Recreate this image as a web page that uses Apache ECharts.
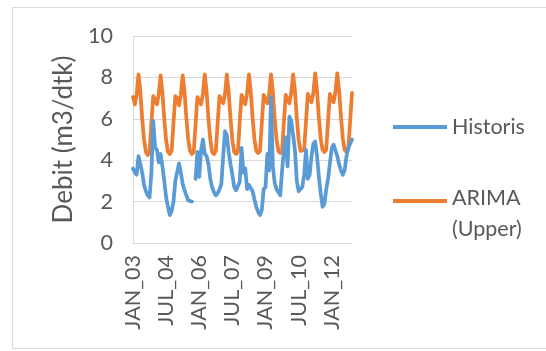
<!DOCTYPE html>
<html>
<head>
<meta charset="utf-8">
<script src="https://cdn.jsdelivr.net/npm/echarts@6/dist/echarts.min.js"></script>
<style>
  html, body { margin: 0; padding: 0; background: #ffffff; }
  #chart { width: 546px; height: 351px; }
</style>
</head>
<body>
<div id="chart"></div>
<script>
// Monthly categories: JAN_03 ... DEC_12
const monthCodes = ['JAN','FEB','MAR','APR','MAY','JUN','JUL','AUG','SEP','OCT','NOV','DEC'];
const yearCodes = ['03','04','05','06','07','08','09','10','11','12'];
const categories = [];
yearCodes.forEach(y => monthCodes.forEach(m => categories.push(m + '_' + y)));

// Observed discharge (m3/dtk), one row per year; null = missing month
const historis2003 = [3.6, 3.4, 3.3, 4.2, 3.8, 3.4, 2.8, 2.5, 2.3, 2.2, 3.4, 5.9];
const historis2004 = [4.6, 4.5, 3.9, 4.3, 3.7, 3.0, 2.2, 1.75, 1.35, 1.55, 2.0, 3.0];
const historis2005 = [3.0, 3.85, 3.4, 2.85, 2.55, 2.3, 2.05, 2.0, 2.0, null, 3.1, 4.4];
const historis2006 = [3.2, 4.5, 5.0, 4.3, 4.2, 3.8, 3.1, 2.7, 2.45, 2.3, 2.4, 2.6];
const historis2007 = [2.85, 4.2, 5.4, 5.2, 4.4, 3.8, 3.3, 2.7, 2.55, 2.75, 2.95, 4.6];
const historis2008 = [3.4, 3.6, 2.6, 2.8, 2.8, 2.5, 2.1, 1.75, 1.5, 1.35, 1.6, 2.6];
const historis2009 = [2.7, 4.3, 3.5, 7.05, 3.7, 2.9, 2.6, 2.45, 2.3, 3.5, 4.5, 5.1];
const historis2010 = [3.7, 6.1, 5.9, 5.2, 4.5, 3.0, 2.5, 2.5, 2.7, 3.3, 4.5, 3.1];
const historis2011 = [3.3, 4.2, 4.8, 4.9, 4.2, 3.2, 2.4, 1.75, 1.9, 2.6, 3.1, 3.1];
const historis2012 = [4.6, 4.75, 4.7, 4.2, 3.8, 3.5, 3.3, 3.5, 4.2, 4.6, 4.8, 5.0];

// ARIMA upper bound (m3/dtk), one row per year
const upper2003 = [7.05, 6.7, 7.2, 8.15, 7.3, 6.0, 5.0, 4.4, 4.25, 4.4, 5.8, 7.1];
const upper2004 = [7.05, 6.7, 7.2, 8.1, 7.25, 6.0, 4.95, 4.4, 4.3, 4.45, 5.8, 7.1];
const upper2005 = [7.0, 6.65, 7.15, 8.1, 7.3, 6.05, 5.0, 4.45, 4.3, 4.4, 5.75, 7.05];
const upper2006 = [7.1, 6.7, 7.2, 8.15, 7.3, 6.0, 5.0, 4.4, 4.3, 4.45, 5.8, 7.1];
const upper2007 = [7.1, 6.75, 7.2, 8.15, 7.25, 6.0, 4.95, 4.4, 4.3, 4.4, 5.85, 7.15];
const upper2008 = [7.1, 6.7, 7.25, 8.15, 7.3, 6.05, 5.0, 4.45, 4.35, 4.45, 5.8, 7.15];
const upper2009 = [7.15, 6.75, 7.2, 8.15, 7.3, 6.0, 5.0, 4.45, 4.35, 4.45, 5.85, 7.15];
const upper2010 = [7.15, 6.75, 7.25, 8.15, 7.35, 6.05, 5.0, 4.45, 4.4, 4.5, 5.85, 7.2];
const upper2011 = [7.2, 6.8, 7.25, 8.2, 7.35, 6.05, 5.05, 4.5, 4.4, 4.5, 5.9, 7.2];
const upper2012 = [7.2, 6.8, 7.3, 8.2, 7.35, 6.1, 5.05, 4.5, 4.4, 4.55, 5.9, 7.25];

const historis = [].concat(historis2003, historis2004, historis2005, historis2006, historis2007,
  historis2008, historis2009, historis2010, historis2011, historis2012);
const arimaUpper = [].concat(upper2003, upper2004, upper2005, upper2006, upper2007,
  upper2008, upper2009, upper2010, upper2011, upper2012);

const yTicks = { min: 0, max: 10, interval: 2 };

const FONT = 'Lato, "Open Sans", sans-serif';
const TEXT = '#595959';

// Legend swatch: a 54x4 bar on top of a 30px-tall box, so that it lines up
// with the first line of a two-line legend label.
const topBarIcon = 'path://M0,0L54,0L54,4L0,4Z M0,30L0.05,30L0.05,30.05L0,30.05Z';

const chart = echarts.init(document.getElementById('chart'), null, { renderer: 'canvas' });
chart.setOption({
  animation: false,
  backgroundColor: '#ffffff',
  graphic: [{
    type: 'rect',
    shape: { x: 12.5, y: 7.5, width: 545, height: 341 },
    style: { fill: 'none', stroke: '#d9d9d9', lineWidth: 1 },
    silent: true, z: -1
  }],
  grid: { left: 133, right: 194, top: 36, bottom: 108, containLabel: false },
  legend: [{
    data: ['Historis'],
    left: 388, top: 110,
    icon: 'rect', itemWidth: 54, itemHeight: 4,
    textStyle: { fontFamily: FONT, fontSize: 21.5, color: TEXT, lineHeight: 24 }
  }, {
    data: ['ARIMA (Upper)'],
    formatter: name => name.replace(' ', '\n'),
    left: 388, top: 178,
    icon: topBarIcon, itemWidth: 54, itemHeight: 30.05,
    textStyle: { fontFamily: FONT, fontSize: 21.5, color: TEXT, lineHeight: 31 }
  }],
  xAxis: {
    type: 'category',
    data: categories,
    boundaryGap: false,
    axisLine: { lineStyle: { color: '#d9d9d9', width: 1 } },
    axisTick: { show: false },
    axisLabel: {
      interval: 17, rotate: 90, margin: 12,
      fontFamily: FONT, fontSize: 21.5, color: TEXT
    },
    splitLine: { show: false }
  },
  yAxis: {
    type: 'value',
    min: yTicks.min, max: yTicks.max, interval: yTicks.interval,
    name: 'Debit (m3/dtk)',
    nameLocation: 'middle', nameGap: 56, nameRotate: 90,
    nameTextStyle: { fontFamily: FONT, fontSize: 26, color: TEXT },
    axisLine: { show: true, lineStyle: { color: '#d9d9d9', width: 1 } },
    axisTick: { show: false },
    axisLabel: { margin: 20, fontFamily: FONT, fontSize: 21.5, color: TEXT },
    splitLine: { lineStyle: { color: '#d9d9d9', width: 1 } }
  },
  series: [{
    name: 'Historis',
    type: 'line',
    data: historis,
    showSymbol: false,
    connectNulls: false,
    lineStyle: { color: '#5b9bd5', width: 3.75, join: 'round', cap: 'round' },
    itemStyle: { color: '#5b9bd5' },
    z: 3
  }, {
    name: 'ARIMA (Upper)',
    type: 'line',
    data: arimaUpper,
    showSymbol: false,
    lineStyle: { color: '#ed7d31', width: 3.75, join: 'round', cap: 'round' },
    itemStyle: { color: '#ed7d31' },
    z: 2
  }]
});
</script>
</body>
</html>
